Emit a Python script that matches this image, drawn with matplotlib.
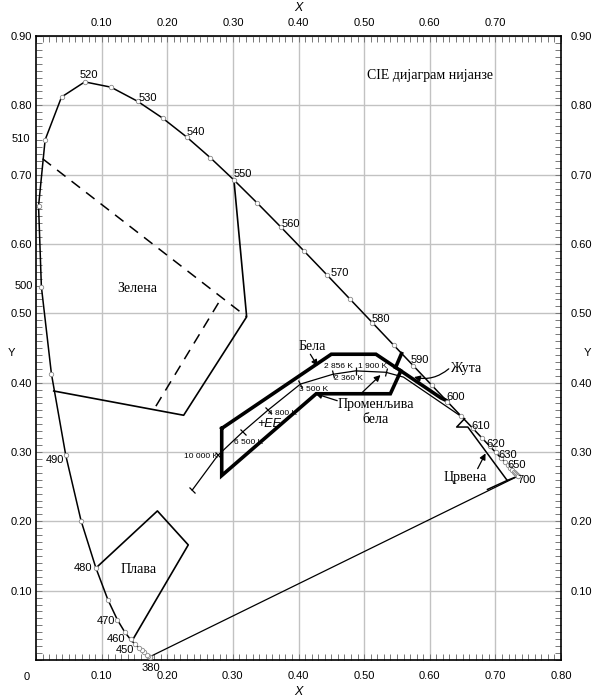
import matplotlib
matplotlib.use('Agg')
import matplotlib.pyplot as plt
from matplotlib.ticker import MultipleLocator, FixedLocator
from matplotlib.markers import MarkerStyle
from matplotlib.transforms import Affine2D

SANS = ['Liberation Sans Narrow', 'Liberation Sans', 'DejaVu Sans']
SERIF = ['Liberation Serif', 'DejaVu Serif']
plt.rcParams['font.family'] = SANS

# ---------------- data ----------------
# CIE 1931 spectral locus (wavelength nm, x, y)
locus_wl = [380, 400, 420, 430, 440, 445, 450, 455, 460, 465, 470, 475, 480, 485, 490, 495,
            500, 505, 510, 515, 520, 525, 530, 535, 540, 545, 550, 555, 560, 565, 570, 575,
            580, 585, 590, 595, 600, 605, 610, 615, 620, 625, 630, 635, 640, 645, 650, 655,
            660, 670, 680, 690, 700]
locus_x = [0.1741, 0.1733, 0.1714, 0.1689, 0.1644, 0.1611, 0.1566, 0.1510, 0.1440, 0.1355,
           0.1241, 0.1096, 0.0913, 0.0687, 0.0454, 0.0235, 0.0082, 0.0039, 0.0139, 0.0389,
           0.0743, 0.1142, 0.1547, 0.1929, 0.2296, 0.2658, 0.3016, 0.3373, 0.3731, 0.4087,
           0.4441, 0.4788, 0.5125, 0.5448, 0.5752, 0.6029, 0.6270, 0.6482, 0.6658, 0.6801,
           0.6915, 0.7006, 0.7079, 0.7140, 0.7190, 0.7230, 0.7260, 0.7283, 0.7300, 0.7320,
           0.7334, 0.7344, 0.7347]
locus_y = [0.0050, 0.0048, 0.0051, 0.0069, 0.0109, 0.0138, 0.0177, 0.0227, 0.0297, 0.0399,
           0.0578, 0.0868, 0.1327, 0.2007, 0.2950, 0.4127, 0.5384, 0.6548, 0.7502, 0.8120,
           0.8338, 0.8262, 0.8059, 0.7816, 0.7543, 0.7243, 0.6923, 0.6589, 0.6245, 0.5896,
           0.5547, 0.5202, 0.4866, 0.4544, 0.4242, 0.3965, 0.3725, 0.3514, 0.3340, 0.3197,
           0.3083, 0.2993, 0.2920, 0.2859, 0.2809, 0.2770, 0.2740, 0.2717, 0.2700, 0.2680,
           0.2666, 0.2656, 0.2653]

# wavelength annotations
wl_text = ['520', '530', '540', '550', '560', '570', '580', '590', '600', '610', '620', '630',
           '650', '700', '490', '480', '470', '460', '450', '380', '510', '500']
wl_tx = [0.081, 0.170, 0.2435, 0.315, 0.388, 0.463, 0.526, 0.585, 0.639, 0.677, 0.701, 0.719,
         0.733, 0.748, 0.029, 0.072, 0.107, 0.122, 0.136, 0.175, -0.023, -0.018]
wl_ty = [0.844, 0.811, 0.761, 0.701, 0.629, 0.558, 0.492, 0.432, 0.379, 0.338, 0.312, 0.296,
         0.281, 0.260, 0.288, 0.133, 0.056, 0.031, 0.014, -0.011, 0.751, 0.540]

# green region (solid boundary, off the locus) and dashed boundaries
green_x = [0.3016, 0.321, 0.225, 0.027]
green_y = [0.6923, 0.495, 0.353, 0.388]
green_dash1_x = [0.010, 0.321]
green_dash1_y = [0.723, 0.495]
green_dash2_x = [0.278, 0.182]
green_dash2_y = [0.515, 0.365]

# blue region
blue_x = [0.0913, 0.185, 0.232, 0.146]
blue_y = [0.1327, 0.215, 0.166, 0.027]

# white region (thick)
white_x = [0.283, 0.450, 0.518, 0.556, 0.540, 0.427, 0.283, 0.283]
white_y = [0.334, 0.441, 0.441, 0.417, 0.384, 0.384, 0.266, 0.334]

# yellow region (thick)
yellow_x = [0.556, 0.617, 0.627]
yellow_y = [0.417, 0.378, 0.3735]
yellow_stub_x = [0.557, 0.548]
yellow_stub_y = [0.442, 0.422]

# Planckian locus (thin)
planck_x = [0.238, 0.277, 0.315, 0.353, 0.403, 0.452, 0.487, 0.533, 0.560, 0.653]
planck_y = [0.245, 0.295, 0.329, 0.360, 0.398, 0.412, 0.417, 0.415, 0.408, 0.348]
cct_px = [0.238, 0.277, 0.315, 0.353, 0.403, 0.452, 0.487, 0.533]
cct_py = [0.245, 0.295, 0.329, 0.360, 0.398, 0.412, 0.417, 0.415]
cct_ang = [49, 49, 42, 40, 29, 13, 2, -7]
cct_text = ['10 000 K', '6 500 K', '4 800 K', '3 500 K', '2 856 K', '2 360 K', '1 900 K']
cct_tx = [0.251, 0.324, 0.376, 0.423, 0.461, 0.476, 0.513]
cct_ty = [0.294, 0.314, 0.355, 0.390, 0.424, 0.406, 0.424]

# red region (thin)
red_x = [0.653, 0.641, 0.658, 0.718, 0.7347]
red_y = [0.348, 0.336, 0.336, 0.259, 0.2653]
red_stub_x = [0.718, 0.688]
red_stub_y = [0.259, 0.246]

ticks_major = [0.1, 0.2, 0.3, 0.4, 0.5, 0.6, 0.7, 0.8, 0.9]

# ---------------- figure ----------------
fig = plt.figure(figsize=(6.0, 6.97), dpi=100)
ax = fig.add_axes([36/600, 37/697, 525/600, 624/697])
ax.set_xlim(0, 0.8)
ax.set_ylim(0, 0.9)

ax.xaxis.set_major_locator(FixedLocator(ticks_major[:8]))
ax.yaxis.set_major_locator(FixedLocator(ticks_major))
ax.xaxis.set_minor_locator(MultipleLocator(0.01))
ax.yaxis.set_minor_locator(MultipleLocator(0.01))
ax.set_xticklabels(['%.2f' % v for v in ticks_major[:8]])
ax.set_yticklabels(['%.2f' % v for v in ticks_major])
ax.tick_params(which='both', direction='in', top=True, right=True, length=4,
               color='#777777', width=0.7, labelsize=8)
ax.tick_params(axis='x', pad=8)
ax.tick_params(axis='y', pad=3)
ax.grid(True, which='major', color='#c2c2c2', lw=1.0)
ax.set_axisbelow(True)
for s in ax.spines.values():
    s.set_linewidth(1.2)

secx = ax.secondary_xaxis('top')
secx.set_xticks(ticks_major[:7])
secx.set_xticklabels(['%.2f' % v for v in ticks_major[:7]])
secx.tick_params(length=0, labelsize=8, pad=6)
secx.spines['top'].set_visible(False)
secy = ax.secondary_yaxis('right')
secy.set_yticks(ticks_major)
secy.set_yticklabels(['%.2f' % v for v in ticks_major])
secy.tick_params(length=0, labelsize=8, pad=7)
secy.spines['right'].set_visible(False)

ax.text(-0.014, -0.024, '0', fontsize=8, ha='center', va='center', clip_on=False)
ax.text(0.4, -0.046, 'X', fontsize=9, style='italic', ha='center', va='center', clip_on=False)
ax.text(0.4, 0.94, 'X', fontsize=9, style='italic', ha='center', va='center', clip_on=False)
ax.text(-0.037, 0.443, 'Y', fontsize=8, ha='center', va='center', clip_on=False)
ax.text(0.840, 0.443, 'Y', fontsize=8, ha='center', va='center', clip_on=False)

# spectral locus and purple line
ax.plot([locus_x[0], locus_x[-1]], [locus_y[0], locus_y[-1]], color='k', lw=0.9)
ax.plot(locus_x, locus_y, color='k', lw=1.1, marker='o', ms=3.2, mfc='white',
        mec='#888888', mew=0.6, clip_on=False, zorder=3)
for t, x, y in zip(wl_text, wl_tx, wl_ty):
    ax.text(x, y, t, fontsize=8, ha='center', va='center', clip_on=False, zorder=4)

# green
ax.plot(green_x, green_y, color='k', lw=1.2)
ax.plot(green_dash1_x, green_dash1_y, color='k', lw=1.1, dashes=(7, 5))
ax.plot(green_dash2_x, green_dash2_y, color='k', lw=1.1, dashes=(7, 5))
# blue
ax.plot(blue_x, blue_y, color='k', lw=1.2)
# white
ax.plot(white_x, white_y, color='k', lw=2.6, solid_joinstyle='miter')
# yellow
ax.plot(yellow_x, yellow_y, color='k', lw=2.6, solid_joinstyle='miter')
ax.plot(yellow_stub_x, yellow_stub_y, color='k', lw=2.6)
# planckian
ax.plot(planck_x, planck_y, color='k', lw=0.9)
for x, y, a in zip(cct_px, cct_py, cct_ang):
    m = MarkerStyle('|', transform=Affine2D().rotate_deg(a))
    ax.plot([x], [y], marker=m, ms=6, mew=0.9, color='k')
for t, x, y in zip(cct_text, cct_tx, cct_ty):
    ax.text(x, y, t, fontsize=6, ha='center', va='center')
ax.text(0.355, 0.341, '+EE', fontsize=9, style='italic', ha='center', va='center',
        family=['Liberation Sans', 'DejaVu Sans'])
# red
ax.plot(red_x, red_y, color='k', lw=1.1)
ax.plot(red_stub_x, red_stub_y, color='k', lw=1.1)

# region labels
lab = dict(fontsize=10, family=SERIF, ha='center', va='center')
ax.text(0.154, 0.536, 'Зелена', **lab)
ax.text(0.157, 0.131, 'Плава', **lab)
ax.text(0.421, 0.452, 'Бела', **lab)
ax.text(0.518, 0.357, 'Променљива\nбела', linespacing=1.2, **lab)
ax.text(0.654, 0.421, 'Жута', **lab)
ax.text(0.654, 0.263, 'Црвена', **lab)
ax.text(0.601, 0.843, 'CIE дијаграм нијанзе', **lab)

ap = dict(arrowstyle='-|>', color='k', lw=0.9, mutation_scale=9, shrinkA=0, shrinkB=0)
ax.annotate('', xy=(0.429, 0.424), xytext=(0.418, 0.441), arrowprops=ap)
ax.annotate('', xy=(0.426, 0.384), xytext=(0.459, 0.374), arrowprops=ap)
ax.annotate('', xy=(0.525, 0.411), xytext=(0.495, 0.384), arrowprops=ap)
ax.annotate('', xy=(0.576, 0.408), xytext=(0.629, 0.420),
            arrowprops=dict(ap, connectionstyle='arc3,rad=-0.25'))
ax.annotate('', xy=(0.685, 0.298), xytext=(0.673, 0.276), arrowprops=ap)

fig.savefig('out.png', dpi=100)
